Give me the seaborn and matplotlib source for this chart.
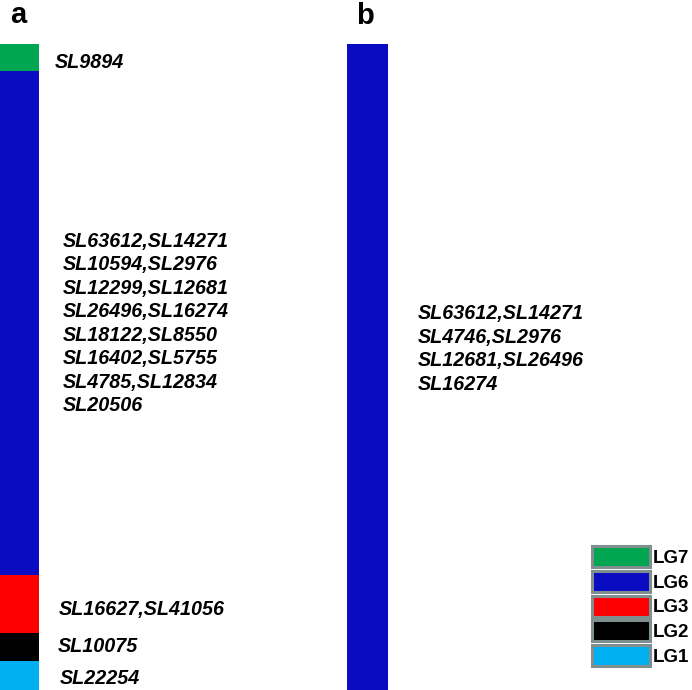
"""Linkage group map: panel a (all markers) and panel b (subset on LG6)."""
import matplotlib
matplotlib.use('Agg')
import matplotlib.pyplot as plt
from matplotlib.patches import Patch
import pandas as pd
import seaborn as sns

# ---- data -------------------------------------------------------------
GROUPS = ['LG7', 'LG6', 'LG3', 'LG2', 'LG1']
GROUP_COLORS = {'LG7': '#00a651', 'LG6': '#0a0cc2', 'LG3': '#ff0000',
                'LG2': '#000000', 'LG1': '#00b0f0'}

# panel a: segment lengths from top to bottom
seg_groups_a = ['LG7', 'LG6', 'LG3', 'LG2', 'LG1']
seg_lengths_a = [27, 504, 58, 28, 29]
marker_labels_a = [
    ['SL9894'],
    ['SL63612,SL14271', 'SL10594,SL2976', 'SL12299,SL12681', 'SL26496,SL16274',
     'SL18122,SL8550', 'SL16402,SL5755', 'SL4785,SL12834', 'SL20506'],
    ['SL16627,SL41056'],
    ['SL10075'],
    ['SL22254'],
]
label_pos_a = [19, 279.5, 565, 603, 635]
label_offset_a = [16, 24, 20, 19, 21]  # px right of the bar

# panel b: a single LG6 segment
seg_groups_b = ['LG6']
seg_lengths_b = [646]
marker_labels_b = [['SL63612,SL14271', 'SL4746,SL2976', 'SL12681,SL26496', 'SL16274']]
label_pos_b = [305]
label_offset_b = [30]

W, H = 692, 690
LINE_STEP = 23.5  # px between label lines

sns.set_theme(style='white')
plt.rcParams['font.family'] = ['Liberation Sans', 'DejaVu Sans']
plt.rcParams['text.color'] = 'black'


def draw_column(ax, groups, lengths, labels, positions, offsets):
    df = pd.DataFrame({'group': groups, 'length': lengths})
    df['end'] = df['length'].cumsum()
    total = df['end'].iloc[-1]
    # stacked column: draw longest cumulative bar first, shorter ones on top
    for _, row in df.iloc[::-1].iterrows():
        sns.barplot(x=['col'], y=[row['end']], color=GROUP_COLORS[row['group']],
                    width=1.0, saturation=1, errorbar=None, ax=ax, linewidth=0)
    ax.set_xlim(-0.5, 0.5)
    ax.set_ylim(total, 0)
    ax.axis('off')

    px_per_unit = ax.get_position().height * H / total
    for lines, pos, off in zip(labels, positions, offsets):
        n = len(lines)
        for i, line in enumerate(lines):
            y = pos + (i - (n - 1) / 2) * LINE_STEP / px_per_unit
            ax.annotate(line, xy=(1, y), xycoords=('axes fraction', 'data'),
                        xytext=(off * 0.72, 0), textcoords='offset points',
                        ha='left', va='center', fontsize=14.2, color='black',
                        fontweight='bold', fontstyle='italic', annotation_clip=False)


fig = plt.figure(figsize=(W / 100, H / 100), dpi=100)

ax_a = fig.add_axes([0, 0, 39 / W, 646 / H])
draw_column(ax_a, seg_groups_a, seg_lengths_a, marker_labels_a, label_pos_a, label_offset_a)

ax_b = fig.add_axes([347 / W, 0, 41 / W, 646 / H])
draw_column(ax_b, seg_groups_b, seg_lengths_b, marker_labels_b, label_pos_b, label_offset_b)

fig.text(18 / W, 1 - 23 / H, 'a', ha='center', va='baseline', fontsize=21,
         fontweight='bold', color='black')
fig.text(365 / W, 1 - 24 / H, 'b', ha='center', va='baseline', fontsize=21,
         fontweight='bold', color='black')

handles = [Patch(facecolor=GROUP_COLORS[g], edgecolor='#7f8f8f', linewidth=2.2) for g in GROUPS]
leg = fig.legend(handles, GROUPS, loc='upper left', bbox_to_anchor=(592 / W, 1 - 546 / H),
                 frameon=False, borderpad=0, borderaxespad=0, fontsize=13.5,
                 handlelength=3.1, handleheight=1.35, labelspacing=0.2, handletextpad=0.12)
for t in leg.get_texts():
    t.set_fontweight('bold')
    t.set_color('black')

fig.savefig('out.png', dpi=100)
